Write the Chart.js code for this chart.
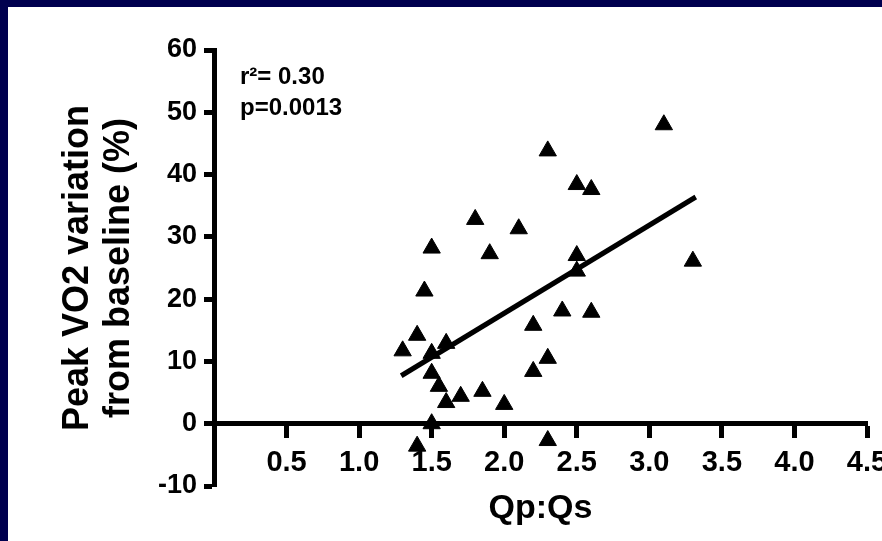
<!DOCTYPE html>
<html>
<head>
<meta charset="utf-8">
<script src="https://cdn.jsdelivr.net/npm/chart.js@4/dist/chart.umd.min.js"></script>
<style>
  html, body { margin: 0; padding: 0; width: 882px; height: 541px; overflow: hidden; background: #00004f; }
  #frame { position: absolute; left: 8px; top: 7px; width: 874px; height: 534px; background: #fff; }
</style>
</head>
<body>
<div id="frame"><canvas id="chart" width="874" height="534"></canvas></div>
<script>
// --- data ---
const qpqs = [1.45, 1.40, 1.30, 1.50, 1.60, 1.50, 1.55, 1.60, 1.70, 1.85,
              2.00, 1.50, 1.40, 2.30, 2.20, 2.40, 2.60, 2.30, 2.20, 3.10,
              2.30, 2.50, 2.60, 1.80, 2.10, 1.50, 1.90, 2.50, 2.50, 3.30];
const vo2 = [21.3, 14.2, 11.7, 11.3, 12.9, 8.1, 6.0, 3.4, 4.4, 5.2,
             3.1, 0.0, -3.6, -2.7, 15.8, 18.1, 17.9, 10.5, 8.4, 48.0,
             43.8, 38.4, 37.6, 32.8, 31.3, 28.2, 27.3, 27.0, 24.5, 26.1];
const fitX = [1.29, 3.32];
const fitY = [7.7, 36.4];
const xTicks = [0.5, 1.0, 1.5, 2.0, 2.5, 3.0, 3.5, 4.0, 4.5];
const yTicks = [-10, 0, 10, 20, 30, 40, 50, 60];
const stats = ['r\u00b2= 0.30', 'p=0.0013'];

const FONT = "'Liberation Sans', Arial, sans-serif";

// stats text in the top-left corner of the plot
const statsText = {
  id: 'statsText',
  afterDraw(chart) {
    const { ctx, chartArea } = chart;
    ctx.save();
    ctx.font = 'bold 24px ' + FONT;
    ctx.fillStyle = '#000';
    ctx.textBaseline = 'middle';
    ctx.textAlign = 'left';
    stats.forEach((s, i) => ctx.fillText(s, chartArea.left + 26, chartArea.top + 27 + i * 31));
    ctx.restore();
  }
};

new Chart(document.getElementById('chart'), {
  type: 'scatter',
  data: {
    datasets: [{
      data: qpqs.map((x, i) => ({ x: x, y: vo2[i] })),
      pointStyle: 'triangle',
      pointRadius: 10,
      pointBorderWidth: 1,
      backgroundColor: '#000',
      borderColor: '#000'
    }, {
      data: fitX.map((x, i) => ({ x: x, y: fitY[i] })),
      showLine: true,
      borderColor: '#000',
      borderWidth: 5,
      borderCapStyle: 'butt',
      pointRadius: 0
    }]
  },
  options: {
    responsive: false,
    animation: false,
    devicePixelRatio: 1,
    layout: { padding: { left: 0, top: 43, right: 15, bottom: 55 } },
    plugins: { legend: { display: false }, tooltip: { enabled: false } },
    scales: {
      x: {
        type: 'linear',
        position: { y: 0 },
        min: 0,
        max: 4.5,
        afterBuildTicks: s => { s.ticks = xTicks.map(v => ({ value: v })); },
        afterFit: s => { s.height = 56; s.paddingLeft = 0; s.paddingRight = 0; },
        ticks: {
          color: '#000',
          padding: 10,
          maxRotation: 0,
          font: { family: FONT, size: 29, weight: 'bold' },
          callback: v => v.toFixed(1)
        },
        grid: { drawOnChartArea: false, drawTicks: true, tickLength: 12, tickWidth: 5, tickColor: '#000' },
        border: { display: true, width: 5, color: '#000' },
        title: {
          display: true,
          text: 'Qp:Qs',
          color: '#000',
          font: { family: FONT, size: 34, weight: 'bold', lineHeight: 1.2 },
          padding: { top: 0, bottom: -49 }
        }
      },
      y: {
        type: 'linear',
        position: 'left',
        min: -10,
        max: 60,
        afterBuildTicks: s => { s.ticks = yTicks.map(v => ({ value: v })); },
        afterFit: s => { s.width = 206; s.paddingTop = 0; s.paddingBottom = 0; },
        ticks: {
          color: '#000',
          padding: 7,
          font: { family: FONT, size: 27, weight: 'bold' }
        },
        grid: { drawOnChartArea: false, drawTicks: true, tickLength: 10, tickWidth: 5, tickColor: '#000' },
        border: { display: true, width: 5, color: '#000' },
        title: {
          display: true,
          text: ['Peak VO2 variation', 'from baseline (%)'],
          color: '#000',
          font: { family: FONT, size: 36, weight: 'bold', lineHeight: 1.14 },
          padding: { top: 50, bottom: 0 }
        }
      }
    }
  },
  plugins: [statsText]
});
</script>
</body>
</html>
